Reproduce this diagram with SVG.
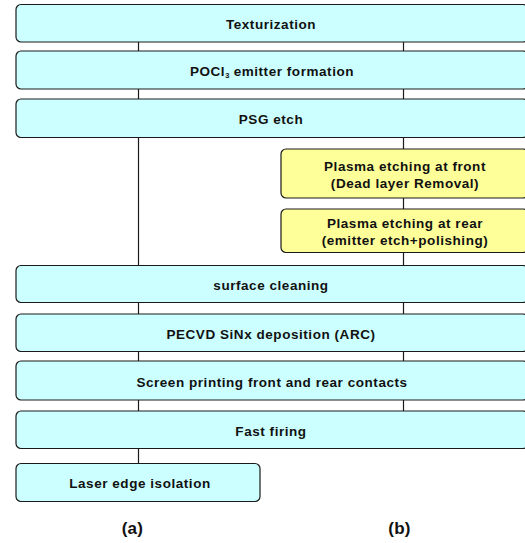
<svg xmlns="http://www.w3.org/2000/svg" width="525" height="543" viewBox="0 0 525 543">
<style>
.box{fill:#CCFFFF;stroke:#1a1a1a;stroke-width:1.2}
.ybox{fill:#FFFF99;stroke:#1a1a1a;stroke-width:1.2}
.t{font-family:"Liberation Sans",Arial,sans-serif;font-weight:bold;font-size:13.5px;letter-spacing:0.55px;fill:#111;text-anchor:middle}
.sub{font-size:7.5px;letter-spacing:0}
.lab{font-size:17px;letter-spacing:0.3px}
.ln{stroke:#1a1a1a;stroke-width:1.2;fill:none}
</style>
<rect width="525" height="543" fill="#ffffff"/>
<g id="connectors">
<line class="ln" x1="138.5" y1="42" x2="138.5" y2="51"/>
<line class="ln" x1="403.5" y1="42" x2="403.5" y2="51"/>
<line class="ln" x1="138.5" y1="89" x2="138.5" y2="99"/>
<line class="ln" x1="403.5" y1="89" x2="403.5" y2="99"/>
<line class="ln" x1="138.5" y1="137.5" x2="138.5" y2="265.5"/>
<line class="ln" x1="403.5" y1="137.5" x2="403.5" y2="149"/>
<line class="ln" x1="403.5" y1="198" x2="403.5" y2="209"/>
<line class="ln" x1="403.5" y1="252.5" x2="403.5" y2="265.5"/>
<line class="ln" x1="138.5" y1="302.5" x2="138.5" y2="314"/>
<line class="ln" x1="403.5" y1="302.5" x2="403.5" y2="314"/>
<line class="ln" x1="138.5" y1="351.5" x2="138.5" y2="361"/>
<line class="ln" x1="403.5" y1="351.5" x2="403.5" y2="361"/>
<line class="ln" x1="138.5" y1="400" x2="138.5" y2="411"/>
<line class="ln" x1="403.5" y1="400" x2="403.5" y2="411"/>
<line class="ln" x1="138.5" y1="448.5" x2="138.5" y2="463.5"/>
</g>
<g id="texturization">
<rect class="box" x="16" y="4.5" width="512" height="37.5" rx="5"/>
<text class="t" x="271" y="29">Texturization</text>
</g>
<g id="pocl3">
<rect class="box" x="16" y="51" width="512" height="38" rx="5"/>
<text class="t" x="272" y="75.5">POCl<tspan class="sub" dy="2.5">3</tspan><tspan dy="-2.5"> emitter formation</tspan></text>
</g>
<g id="psg">
<rect class="box" x="16" y="99" width="512" height="38.5" rx="5"/>
<text class="t" x="271" y="124">PSG etch</text>
</g>
<g id="plasma-front">
<rect class="ybox" x="281" y="149" width="247" height="49" rx="5"/>
<text class="t" x="405" y="171">Plasma etching at front</text>
<text class="t" x="405" y="188">(Dead layer Removal)</text>
</g>
<g id="plasma-rear">
<rect class="ybox" x="281" y="209" width="247" height="43.5" rx="5"/>
<text class="t" x="405" y="227.5">Plasma etching at rear</text>
<text class="t" x="405" y="245">(emitter etch+polishing)</text>
</g>
<g id="surface">
<rect class="box" x="16" y="265.5" width="512" height="37" rx="5"/>
<text class="t" x="271" y="290">surface cleaning</text>
</g>
<g id="pecvd">
<rect class="box" x="16" y="314" width="512" height="37.5" rx="5"/>
<text class="t" x="271" y="338.5">PECVD SiNx deposition (ARC)</text>
</g>
<g id="screen">
<rect class="box" x="16" y="361" width="512" height="39" rx="5"/>
<text class="t" x="272" y="386.5">Screen printing front and rear contacts</text>
</g>
<g id="firing">
<rect class="box" x="16" y="411" width="512" height="37.5" rx="5"/>
<text class="t" x="271" y="436">Fast firing</text>
</g>
<g id="laser">
<rect class="box" x="16" y="463.5" width="244" height="38" rx="5"/>
<text class="t" x="140" y="488">Laser edge isolation</text>
</g>
<g id="labels">
<text class="t lab" x="132.5" y="534">(a)</text>
<text class="t lab" x="399.5" y="534">(b)</text>
</g>
</svg>
